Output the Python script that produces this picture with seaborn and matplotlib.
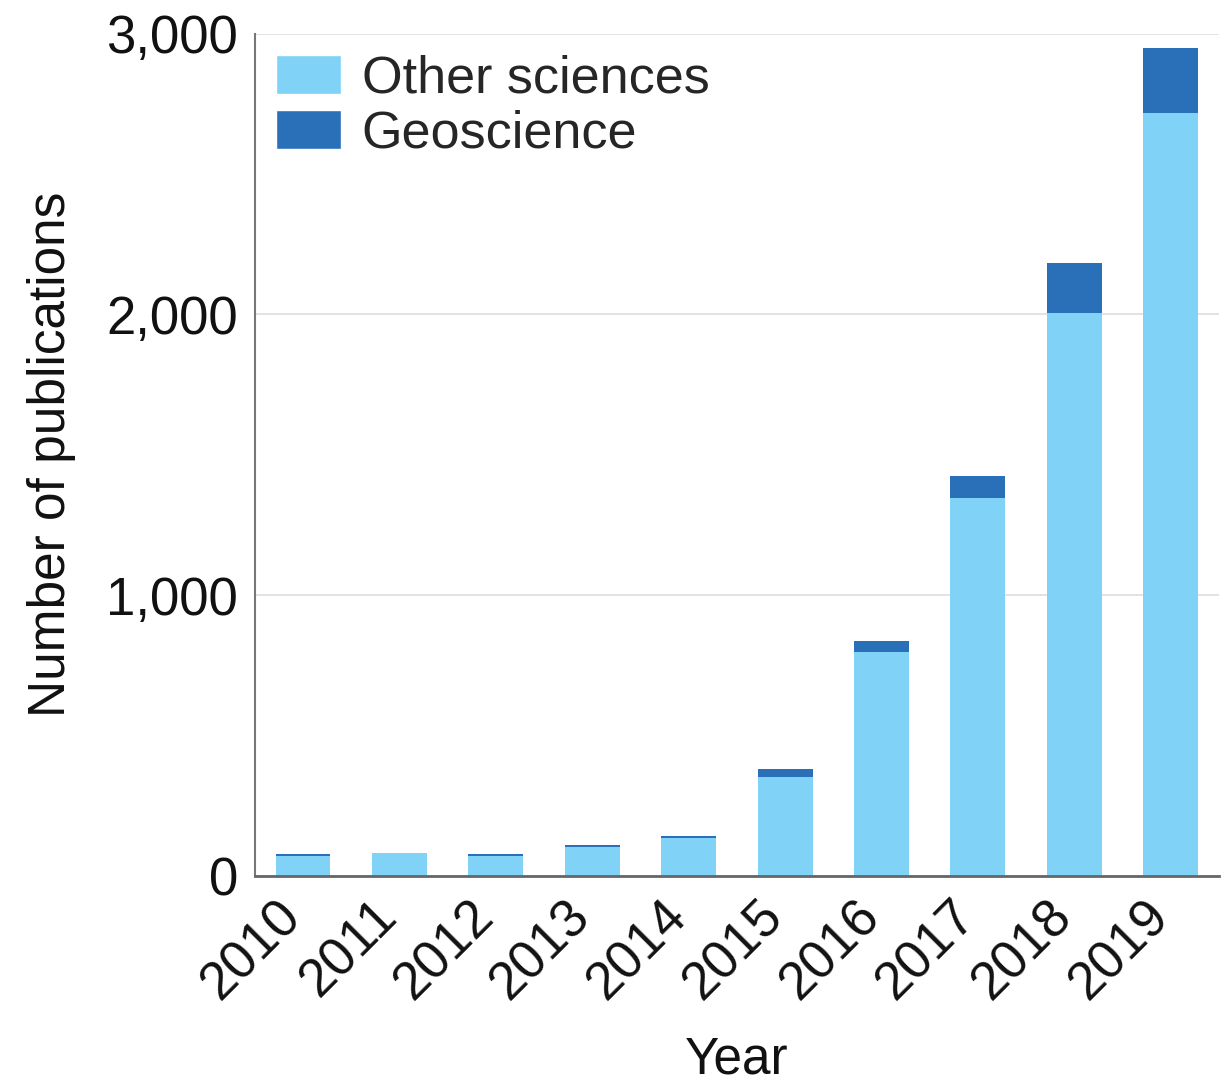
import matplotlib.pyplot as plt
import matplotlib.ticker as mticker
from matplotlib.patches import Patch
import seaborn as sns
import numpy as np

# data
years = ['2010', '2011', '2012', '2013', '2014', '2015', '2016', '2017', '2018', '2019']
other_sciences = [69, 82, 69, 103, 135, 352, 797, 1347, 2006, 2718]
geoscience = [8, 0, 8, 8, 8, 28, 39, 78, 178, 232]

light_blue = '#80D3F6'
dark_blue = '#2A70B9'

sns.set_theme(style='white')
plt.rcParams['font.family'] = ['Liberation Sans', 'DejaVu Sans']

totals = np.array(other_sciences) + np.array(geoscience)

fig = plt.figure(figsize=(12.25, 10.88), dpi=100)
ax = fig.add_axes([0.208, 0.195, 0.787, 0.774])

# stacked: total in dark first, then "other" on top in light
sns.barplot(x=years, y=totals, color=dark_blue, width=0.57, saturation=1,
            linewidth=0, ax=ax)
sns.barplot(x=years, y=other_sciences, color=light_blue, width=0.57, saturation=1,
            linewidth=0, ax=ax)

ax.set_xlim(-0.5, 9.5)
ax.set_ylim(0, 3000)
ax.set_yticks([0, 1000, 2000, 3000])
ax.yaxis.set_major_formatter(mticker.FuncFormatter(lambda v, p: f'{int(v):,}'))
ax.grid(axis='y', color='#dedede', linewidth=1.2)
ax.set_axisbelow(True)

for s in ['top', 'right']:
    ax.spines[s].set_visible(False)
ax.spines['left'].set_color('#777777')
ax.spines['left'].set_linewidth(1.5)
ax.spines['bottom'].set_color('#666666')
ax.spines['bottom'].set_linewidth(2)

ax.tick_params(axis='both', length=0, labelsize=38, colors='#111111')
ax.tick_params(axis='y', pad=12)
ax.tick_params(axis='x', pad=31)
plt.setp(ax.get_xticklabels(), rotation=45, ha='right', va='baseline', rotation_mode='anchor')

ax.set_xlabel('Year', fontsize=37, labelpad=19, color='#111111')
ax.set_ylabel('Number of publications', fontsize=37, labelpad=22, color='#111111')

handles = [Patch(facecolor=light_blue, label='Other sciences'),
           Patch(facecolor=dark_blue, label='Geoscience')]
ax.legend(handles=handles, loc='upper left', bbox_to_anchor=(0.0, 1.0),
          frameon=False, fontsize=37.5, handlelength=1.25, handleheight=0.78,
          handletextpad=0.4, labelspacing=0.12, borderaxespad=0.0, borderpad=0.4)

plt.savefig('out.png', dpi=100)
